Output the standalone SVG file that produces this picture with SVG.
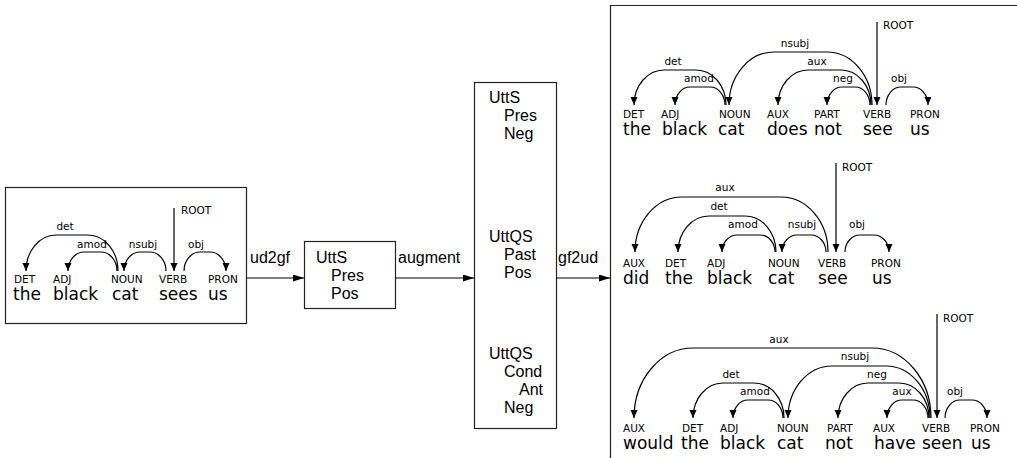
<svg xmlns="http://www.w3.org/2000/svg" width="1017" height="458" viewBox="0 0 1017 458">
<style>
.box{fill:#fff;stroke:#222;stroke-width:1.2}
.bt{font-family:"Liberation Sans",Arial,sans-serif;font-size:16px;fill:#000}
.tag{font-family:"DejaVu Sans",sans-serif;font-size:10.5px;fill:#000}
.w{font-family:"DejaVu Sans",sans-serif;font-size:17px;fill:#000}
.lb{font-family:"DejaVu Sans",sans-serif;font-size:10.5px;fill:#000;text-anchor:middle}
.rt{font-family:"DejaVu Sans",sans-serif;font-size:10.5px;fill:#000}
.arc{fill:none;stroke:#000;stroke-width:1.2;marker-end:url(#ah)}
.con{fill:none;stroke:#000;stroke-width:1.2;marker-end:url(#ca)}
</style>
<defs>
<marker id="ah" markerUnits="userSpaceOnUse" markerWidth="8" markerHeight="9" refX="8" refY="3.5" orient="auto"><path d="M0,0 L8,3.5 L0,7 z" fill="#000"/></marker>
<marker id="ca" markerUnits="userSpaceOnUse" markerWidth="11" markerHeight="8" refX="11" refY="3.5" orient="auto"><path d="M0,0 L11,3.5 L0,7 z" fill="#000"/></marker>
</defs>
<rect width="1017" height="458" fill="#fff"/>

<g id="tree-input">
<rect class="box" x="5.5" y="187.5" width="241" height="136"/>
<text class="tag" x="14" y="283">DET</text><text class="w" x="13" y="300">the</text>
<text class="tag" x="53" y="283">ADJ</text><text class="w" x="53" y="300">black</text>
<text class="tag" x="111" y="283">NOUN</text><text class="w" x="112" y="300">cat</text>
<text class="tag" x="159" y="283">VERB</text><text class="w" x="159" y="300">sees</text>
<text class="tag" x="208" y="283">PRON</text><text class="w" x="208" y="300">us</text>
<path class="arc" d="M118 271 A30 36 0 0 0 88 235 L56 235 A30 36 0 0 0 26 271"/>
<path class="arc" d="M117 271 A16 19 0 0 0 101 252 L84 252 A16 19 0 0 0 68 271"/>
<path class="arc" d="M166 271 A16 19 0 0 0 150 252 L140 252 A16 19 0 0 0 124 271"/>
<path class="arc" d="M184 271 A16 19 0 0 1 200 252 L210 252 A16 19 0 0 1 226 271"/>
<path class="arc" d="M174 208 L174 271"/>
<text class="lb" x="65" y="230">det</text>
<text class="lb" x="92" y="248">amod</text>
<text class="lb" x="143" y="248">nsubj</text>
<text class="lb" x="196" y="248">obj</text>
<text class="rt" x="181" y="214">ROOT</text>
</g>

<g id="node-utts">
<rect class="box" x="304.5" y="241.5" width="91" height="67"/>
<text class="bt" x="316" y="263">UttS</text>
<text class="bt" x="331" y="281">Pres</text>
<text class="bt" x="331" y="299">Pos</text>
</g>

<g id="node-augmented">
<rect class="box" x="474.5" y="82.5" width="82" height="346"/>
<text class="bt" x="489" y="103">UttS</text>
<text class="bt" x="504" y="121">Pres</text>
<text class="bt" x="504" y="139">Neg</text>
<text class="bt" x="489" y="242">UttQS</text>
<text class="bt" x="504" y="260">Past</text>
<text class="bt" x="504" y="278">Pos</text>
<text class="bt" x="489" y="359">UttQS</text>
<text class="bt" x="504" y="377">Cond</text>
<text class="bt" x="519" y="395">Ant</text>
<text class="bt" x="504" y="413">Neg</text>
</g>

<g id="node-output">
<path d="M1017 5.5 H610.5 V458" fill="none" stroke="#222" stroke-width="1.2"/>
<g id="tree-out1">
<text class="tag" x="623" y="118">DET</text><text class="w" x="623" y="135">the</text>
<text class="tag" x="661" y="118">ADJ</text><text class="w" x="662" y="135">black</text>
<text class="tag" x="719" y="118">NOUN</text><text class="w" x="718" y="135">cat</text>
<text class="tag" x="767" y="118">AUX</text><text class="w" x="767" y="135">does</text>
<text class="tag" x="814" y="118">PART</text><text class="w" x="814" y="135">not</text>
<text class="tag" x="863" y="118">VERB</text><text class="w" x="863" y="135">see</text>
<text class="tag" x="910" y="118">PRON</text><text class="w" x="910" y="135">us</text>
<path class="arc" d="M726 105 A30 35 0 0 0 696 70 L664 70 A30 35 0 0 0 634 105"/>
<path class="arc" d="M725 105 A15 18 0 0 0 710 87 L690 87 A15 18 0 0 0 675 105"/>
<path class="arc" d="M872 105 A45 53 0 0 0 827 52 L774 52 A45 53 0 0 0 729 105"/>
<path class="arc" d="M871 105 A30 35 0 0 0 841 70 L808 70 A30 35 0 0 0 778 105"/>
<path class="arc" d="M870 105 A15 18 0 0 0 855 87 L842 87 A15 18 0 0 0 827 105"/>
<path class="arc" d="M886 105 A15 18 0 0 1 901 87 L913 87 A15 18 0 0 1 928 105"/>
<path class="arc" d="M877 22 L877 105"/>
<text class="lb" x="673" y="65">det</text>
<text class="lb" x="699" y="82">amod</text>
<text class="lb" x="795" y="47">nsubj</text>
<text class="lb" x="817" y="65">aux</text>
<text class="lb" x="843" y="82">neg</text>
<text class="lb" x="899" y="82">obj</text>
<text class="rt" x="883" y="29">ROOT</text>
</g>
<g id="tree-out2">
<text class="tag" x="623" y="267">AUX</text><text class="w" x="623" y="284">did</text>
<text class="tag" x="665" y="267">DET</text><text class="w" x="665" y="284">the</text>
<text class="tag" x="707" y="267">ADJ</text><text class="w" x="707" y="284">black</text>
<text class="tag" x="768" y="267">NOUN</text><text class="w" x="768" y="284">cat</text>
<text class="tag" x="818" y="267">VERB</text><text class="w" x="818" y="284">see</text>
<text class="tag" x="871" y="267">PRON</text><text class="w" x="872" y="284">us</text>
<path class="arc" d="M828 252 A47 55 0 0 0 781 197 L682 197 A47 55 0 0 0 635 252"/>
<path class="arc" d="M776 252 A31 36 0 0 0 745 216 L709 216 A31 36 0 0 0 678 252"/>
<path class="arc" d="M775 252 A15 17 0 0 0 760 235 L737 235 A15 17 0 0 0 722 252"/>
<path class="arc" d="M826 252 A15 17 0 0 0 811 235 L797 235 A15 17 0 0 0 782 252"/>
<path class="arc" d="M845 252 A15 17 0 0 1 860 235 L874 235 A15 17 0 0 1 889 252"/>
<path class="arc" d="M836 163 L836 252"/>
<text class="lb" x="725" y="191">aux</text>
<text class="lb" x="719" y="210">det</text>
<text class="lb" x="743" y="228">amod</text>
<text class="lb" x="802" y="228">nsubj</text>
<text class="lb" x="857" y="228">obj</text>
<text class="rt" x="842" y="171">ROOT</text>
</g>
<g id="tree-out3">
<text class="tag" x="623" y="432">AUX</text><text class="w" x="623" y="449">would</text>
<text class="tag" x="682" y="432">DET</text><text class="w" x="681" y="449">the</text>
<text class="tag" x="720" y="432">ADJ</text><text class="w" x="720" y="449">black</text>
<text class="tag" x="777" y="432">NOUN</text><text class="w" x="777" y="449">cat</text>
<text class="tag" x="827" y="432">PART</text><text class="w" x="825" y="449">not</text>
<text class="tag" x="873" y="432">AUX</text><text class="w" x="874" y="449">have</text>
<text class="tag" x="922" y="432">VERB</text><text class="w" x="922" y="449">seen</text>
<text class="tag" x="970" y="432">PRON</text><text class="w" x="971" y="449">us</text>
<path class="arc" d="M931 418 A59 70 0 0 0 872 348 L693 348 A59 70 0 0 0 634 418"/>
<path class="arc" d="M930 418 A44 52 0 0 0 886 366 L832 366 A44 52 0 0 0 788 418"/>
<path class="arc" d="M784 418 A30 35 0 0 0 754 383 L723 383 A30 35 0 0 0 693 418"/>
<path class="arc" d="M783 418 A15 18 0 0 0 768 400 L748 400 A15 18 0 0 0 733 418"/>
<path class="arc" d="M929 418 A30 35 0 0 0 899 383 L868 383 A30 35 0 0 0 838 418"/>
<path class="arc" d="M928 418 A15 18 0 0 0 913 400 L902 400 A15 18 0 0 0 887 418"/>
<path class="arc" d="M945 418 A15 18 0 0 1 960 400 L972 400 A15 18 0 0 1 987 418"/>
<path class="arc" d="M937 314 L937 418"/>
<text class="lb" x="779" y="343">aux</text>
<text class="lb" x="855" y="360">nsubj</text>
<text class="lb" x="731" y="378">det</text>
<text class="lb" x="755" y="395">amod</text>
<text class="lb" x="877" y="378">neg</text>
<text class="lb" x="902" y="395">aux</text>
<text class="lb" x="955" y="395">obj</text>
<text class="rt" x="943" y="322">ROOT</text>
</g>
</g>

<g id="connectors">
<path class="con" d="M246.5 278 H304"/>
<path class="con" d="M395.5 278 H474"/>
<path class="con" d="M556.5 278 H610"/>
<text class="bt" x="250" y="263">ud2gf</text>
<text class="bt" x="398" y="263">augment</text>
<text class="bt" x="558" y="263">gf2ud</text>
</g>
</svg>
